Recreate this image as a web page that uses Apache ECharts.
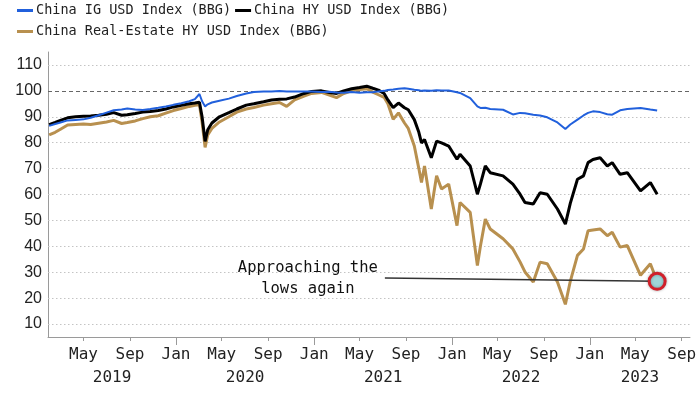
<!DOCTYPE html>
<html>
<head>
<meta charset="utf-8">
<script src="https://cdn.jsdelivr.net/npm/echarts@6/dist/echarts.min.js"></script>
<style>
html,body{margin:0;padding:0;background:#fff;}
#chart{width:700px;height:394px;}
</style>
</head>
<body>
<div id="chart"></div>
<script>
const dates = ['2019-01-30','2019-02-15','2019-03-01','2019-03-20','2019-04-10','2019-05-01','2019-05-20','2019-06-10','2019-07-01','2019-07-20','2019-08-10','2019-08-25','2019-09-15','2019-10-05','2019-10-25','2019-11-15','2019-12-05','2019-12-25','2020-01-15','2020-02-05','2020-02-20','2020-03-03','2020-03-10','2020-03-18','2020-03-25','2020-04-05','2020-04-25','2020-05-20','2020-06-10','2020-07-05','2020-07-25','2020-08-20','2020-09-10','2020-10-01','2020-10-20','2020-11-10','2020-12-05','2020-12-25','2021-01-20','2021-02-10','2021-03-01','2021-03-20','2021-04-10','2021-05-01','2021-05-20','2021-06-05','2021-06-20','2021-07-05','2021-07-15','2021-07-29','2021-08-12','2021-08-28','2021-09-07','2021-09-23','2021-10-05','2021-10-12','2021-10-20','2021-11-07','2021-11-21','2021-12-04','2021-12-23','2022-01-14','2022-01-22','2022-02-18','2022-03-09','2022-03-17','2022-03-30','2022-04-12','2022-05-16','2022-06-11','2022-06-30','2022-07-13','2022-08-04','2022-08-22','2022-09-10','2022-10-07','2022-10-28','2022-11-10','2022-11-29','2022-12-15','2022-12-27','2023-01-09','2023-01-28','2023-02-16','2023-03-01','2023-03-22','2023-04-10','2023-05-15','2023-06-10','2023-06-28'];
const igValues = [86.5,87.2,87.8,88.6,88.8,89.0,89.6,90.6,91.6,92.5,92.8,93.2,92.8,92.6,93.0,93.5,94.0,94.6,95.2,96.0,96.8,98.8,96.0,94.0,94.8,95.5,96.2,97.0,98.0,99.0,99.6,99.8,99.8,99.9,99.8,99.8,99.8,99.8,99.6,99.7,99.4,99.3,99.6,99.3,99.5,99.5,99.8,100.0,100.3,100.5,100.8,101.0,100.8,100.4,100.2,100.0,100.1,100.0,100.2,100.1,100.1,99.5,99.2,97.2,94.0,93.4,93.5,93.0,92.7,90.9,91.5,91.4,90.8,90.5,89.8,87.8,85.3,87.0,88.9,90.5,91.5,92.1,91.8,91.0,90.8,92.5,93.0,93.4,92.8,92.4];
const hyValues = [87.0,87.8,88.6,89.6,90.0,90.2,90.3,90.6,91.0,91.6,90.6,90.8,91.3,91.8,92.0,92.4,93.0,93.8,94.4,95.0,95.3,95.6,90.0,80.5,85.0,87.6,90.0,91.6,93.0,94.5,95.0,95.8,96.5,96.8,96.9,97.6,99.0,99.8,100.0,99.4,99.0,100.0,100.8,101.3,101.8,101.0,100.3,99.0,96.5,93.5,95.3,93.5,92.7,88.9,84.0,79.9,81.2,74.2,80.6,79.9,78.7,73.6,75.5,71.0,60.1,64.0,71.0,68.4,67.2,64.0,60.1,56.9,56.3,60.7,60.1,54.4,48.6,56.6,65.9,67.2,72.3,73.5,74.2,71.0,72.3,67.8,68.4,61.4,64.6,60.1];
const reValues = [83.0,84.0,85.2,86.8,87.0,87.2,87.0,87.5,88.0,88.6,87.4,87.8,88.4,89.3,90.0,90.4,91.4,92.4,93.2,94.0,94.4,94.6,88.0,78.2,83.0,85.5,88.0,90.0,91.8,93.0,93.6,94.5,95.0,95.5,94.0,96.5,98.0,99.0,99.4,98.4,97.4,99.0,100.0,100.5,100.8,99.5,98.5,97.5,95.0,89.0,91.5,87.6,85.5,78.7,70.0,64.6,71.0,54.4,67.2,62.1,64.0,48.0,56.9,53.1,32.6,40.0,50.5,46.7,42.9,39.0,34.0,30.1,26.2,33.9,33.3,26.2,17.6,26.5,36.5,39.0,46.0,46.3,46.7,44.1,45.4,39.7,40.3,28.8,33.3,26.5];

const seriesNames = ['China IG USD Index (BBG)', 'China HY USD Index (BBG)', 'China Real-Estate HY USD Index (BBG)'];
const yTicks = [10,20,30,40,50,60,70,80,90,100,110];
const monthTicks = ['2019-05-01','2019-09-01','2020-01-01','2020-05-01','2020-09-01','2021-01-01','2021-05-01','2021-09-01','2022-01-01','2022-05-01','2022-09-01','2023-01-01','2023-05-01','2023-09-01'];
const yearTicks = ['2020-01-01','2021-01-01','2022-01-01','2023-01-01'];
const years = [2019,2020,2021,2022,2023];
const annotationText = 'Approaching the\nlows again';
const annotationStart = ['2021-07-07', 27.8];
const xRange = ['2019-01-27', '2023-09-23'];

const t = s => Date.parse(s + 'T00:00:00Z');
const monthNames = ['Jan','Feb','Mar','Apr','May','Jun','Jul','Aug','Sep','Oct','Nov','Dec'];
const xMin = t(xRange[0]), xMax = t(xRange[1]);
const yearCenters = years.map(y => {
  const a = Math.max(t(y + '-01-01'), xMin);
  const b = Math.min(t((y + 1) + '-01-01'), xMax);
  return (a + b) / 2;
});
const yearOf = v => {
  let best = 0, bd = Infinity;
  yearCenters.forEach((c, i) => { const d = Math.abs(c - v); if (d < bd) { bd = d; best = i; } });
  return String(years[best]);
};
const toData = vals => dates.map((d, i) => [t(d), vals[i]]);
const last = dates.length - 1;

const gridLines = yTicks.map(v => ({
  yAxis: v,
  lineStyle: v === 100 ? {color: '#666', type: [4, 3], width: 1} : {color: '#c4c4c4', type: [1.5, 2.5], width: 1}
}));

const monoFont = 'DejaVu Sans Mono';
const chart = echarts.init(document.getElementById('chart'), null, {renderer: 'canvas'});
chart.setOption({
  animation: false,
  backgroundColor: '#fff',
  legend: {
    left: 17, top: 2, width: 445, padding: 0,
    itemGap: 4, itemWidth: 16, itemHeight: 3, icon: 'rect',
    textStyle: {fontFamily: monoFont, fontSize: 13.5, color: '#222', lineHeight: 17, padding: [0, 0, 0, -2]},
    data: seriesNames
  },
  grid: {left: 48, right: 10, top: 52, bottom: 57, containLabel: false},
  xAxis: [{
    type: 'value', min: xMin, max: xMax,
    splitLine: {show: false},
    axisLine: {show: true, lineStyle: {color: '#9a9a9a', width: 1}},
    axisTick: {show: true, customValues: monthTicks.map(t), length: 4, lineStyle: {color: '#9a9a9a'}},
    axisLabel: {
      customValues: monthTicks.map(t), margin: 10,
      fontFamily: monoFont, fontSize: 16, color: '#222',
      formatter: v => monthNames[new Date(v).getUTCMonth()]
    }
  }, {
    type: 'value', min: xMin, max: xMax, position: 'bottom',
    splitLine: {show: false},
    axisLine: {show: false},
    axisTick: {show: true, customValues: yearTicks.map(t), length: 8, lineStyle: {color: '#9a9a9a'}},
    axisLabel: {
      customValues: yearCenters, margin: 33,
      fontFamily: monoFont, fontSize: 16, color: '#222',
      formatter: v => yearOf(v)
    }
  }],
  yAxis: {
    type: 'value', min: 5, max: 115,
    splitLine: {show: false},
    axisLine: {show: true, lineStyle: {color: '#9a9a9a', width: 1}},
    axisTick: {show: false},
    axisLabel: {customValues: yTicks, margin: 6, fontFamily: 'Liberation Sans', fontSize: 16, color: '#222'}
  },
  series: [{
    name: seriesNames[2], type: 'line', data: toData(reValues), showSymbol: false, z: 2,
    lineStyle: {color: '#b8904f', width: 3}, itemStyle: {color: '#b8904f'},
    markLine: {
      silent: true, symbol: 'none', z: 6,
      label: {show: false},
      lineStyle: {color: '#333', width: 1.5, type: 'solid'},
      data: [[{coord: [t(annotationStart[0]), annotationStart[1]]}, {coord: [t(dates[last]), reValues[last]]}]]
    },
    markPoint: {
      silent: true, z: 8,
      data: [
        {coord: [t(dates[last]), reValues[last]], symbol: 'circle', symbolSize: 16,
         itemStyle: {color: '#9fd6d8', borderColor: '#d0202a', borderWidth: 3, shadowColor: 'rgba(0,0,0,0.3)', shadowBlur: 3},
         label: {show: false}},
        {coord: [t(annotationStart[0]), annotationStart[1]], symbol: 'circle', symbolSize: 0,
         label: {show: true, formatter: annotationText, position: 'inside', align: 'center', verticalAlign: 'middle',
                 offset: [-77, 1], fontFamily: monoFont, fontSize: 15.5, lineHeight: 21, color: '#111'}}
      ]
    }
  }, {
    name: seriesNames[1], type: 'line', data: toData(hyValues), showSymbol: false, z: 3,
    lineStyle: {color: '#000', width: 3}, itemStyle: {color: '#000'}
  }, {
    name: seriesNames[0], type: 'line', data: toData(igValues), showSymbol: false, z: 4,
    lineStyle: {color: '#2160dc', width: 2}, itemStyle: {color: '#2160dc'},
    markLine: {silent: true, symbol: 'none', z: 1, label: {show: false}, data: gridLines}
  }]
});
</script>
</body>
</html>
